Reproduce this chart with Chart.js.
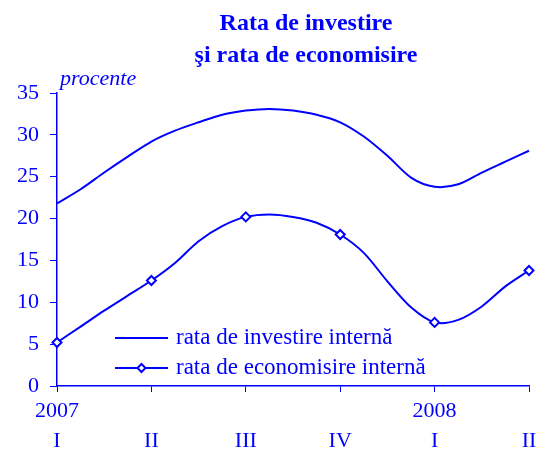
<!DOCTYPE html>
<html>
<head>
<meta charset="utf-8">
<script src="https://cdn.jsdelivr.net/npm/chart.js@4"></script>
<style>
  body { margin: 0; background: #fff; }
  #wrap { width: 547px; height: 450px; position: relative; }
</style>
</head>
<body>
<div id="wrap"><canvas id="rateChart"></canvas></div>
<script>
// quarter labels (one every 4 points) and year row
const quarters = ['I', 'II', 'III', 'IV', 'I', 'II'];
const years = ['2007', '', '', '', '2008', ''];

// values, 4 points per quarter
const investire = [21.8, 23.5, 25.5, 27.4, 29.2, 30.5, 31.5, 32.4, 32.9, 33.1, 32.9,
                   32.4, 31.5, 29.8, 27.5, 24.9, 23.8, 24.1, 25.5, 26.8, 28.1];
const economisire = [5.2, 7.1, 9.0, 10.8, 12.6, 14.7, 17.3, 19.1, 20.2, 20.5, 20.2,
                     19.5, 18.1, 15.9, 12.5, 9.4, 7.6, 7.9, 9.5, 11.9, 13.8];

const seriesNames = ['rata de investire internă', 'rata de economisire internă'];
const titleLines = ['Rata de investire', 'şi rata de economisire'];
const unitLabel = 'procente';

const blue = '#0000ff';
const serif = "'Liberation Serif', 'Times New Roman', serif";

const labels = investire.map((_, i) => i % 4 === 0 ? [years[i / 4], quarters[i / 4]] : '');

// title, unit text and legend drawn on top of the chart
const decorations = {
    id: 'decorations',
    afterDraw(chart) {
        const ctx = chart.ctx;
        const area = chart.chartArea;
        ctx.save();
        ctx.fillStyle = blue;
        ctx.textAlign = 'center';
        ctx.textBaseline = 'alphabetic';
        ctx.font = 'bold 24px ' + serif;
        ctx.fillText(titleLines[0], 306, 30);
        ctx.fillText(titleLines[1], 306, 62);

        ctx.textAlign = 'left';
        ctx.font = 'italic 22px ' + serif;
        ctx.fillText(unitLabel, area.left + 3, 85);

        // legend inside the plot
        ctx.font = '23px ' + serif;
        ctx.strokeStyle = blue;
        ctx.lineWidth = 2;
        const x0 = area.left + 58, x1 = area.left + 111;
        const rows = [area.bottom - 48, area.bottom - 18];
        rows.forEach((y, i) => {
            ctx.beginPath();
            ctx.moveTo(x0, y);
            ctx.lineTo(x1, y);
            ctx.stroke();
            if (i === 1) {
                const cx = (x0 + x1) / 2, r = 4;
                ctx.beginPath();
                ctx.moveTo(cx, y - r);
                ctx.lineTo(cx + r, y);
                ctx.lineTo(cx, y + r);
                ctx.lineTo(cx - r, y);
                ctx.closePath();
                ctx.fillStyle = '#fff';
                ctx.fill();
                ctx.stroke();
                ctx.fillStyle = blue;
            }
            ctx.fillText(seriesNames[i], x1 + 8, y + 6);
        });
        ctx.restore();
    }
};

const ctx = document.getElementById('rateChart').getContext('2d');
new Chart(ctx, {
    type: 'line',
    data: {
        labels: labels,
        datasets: [{
            label: seriesNames[0],
            data: investire,
            borderColor: blue,
            borderWidth: 2,
            pointRadius: 0,
            tension: 0.3
        }, {
            label: seriesNames[1],
            data: economisire,
            borderColor: blue,
            borderWidth: 2,
            backgroundColor: '#fff',
            pointStyle: 'rectRot',
            pointRadius: c => c.dataIndex % 4 === 0 ? 4.5 : 0,
            pointBorderWidth: 2,
            tension: 0.3
        }]
    },
    options: {
        responsive: true,
        maintainAspectRatio: false,
        animation: false,
        layout: { padding: { left: 0, right: 18, top: 93, bottom: 0 } },
        plugins: {
            legend: { display: false },
            title: { display: false },
            tooltip: { enabled: false }
        },
        scales: {
            x: {
                offset: false,
                border: { color: blue, width: 1.5 },
                grid: {
                    drawOnChartArea: false,
                    tickLength: 6,
                    tickColor: c => c.index % 4 === 0 ? blue : 'rgba(0,0,0,0)'
                },
                ticks: {
                    autoSkip: false,
                    maxRotation: 0,
                    padding: 4,
                    color: blue,
                    font: { family: serif, size: 22, lineHeight: 1.36 }
                },
                afterFit: s => { s.height = 64; }
            },
            y: {
                min: 0,
                max: 35,
                border: { color: blue, width: 1.5 },
                grid: { drawOnChartArea: false, tickLength: 7, tickColor: blue },
                ticks: {
                    stepSize: 5,
                    padding: 11,
                    color: blue,
                    font: { family: serif, size: 22 }
                },
                afterFit: s => { s.width = 57; }
            }
        }
    },
    plugins: [decorations]
});
</script>
</body>
</html>
